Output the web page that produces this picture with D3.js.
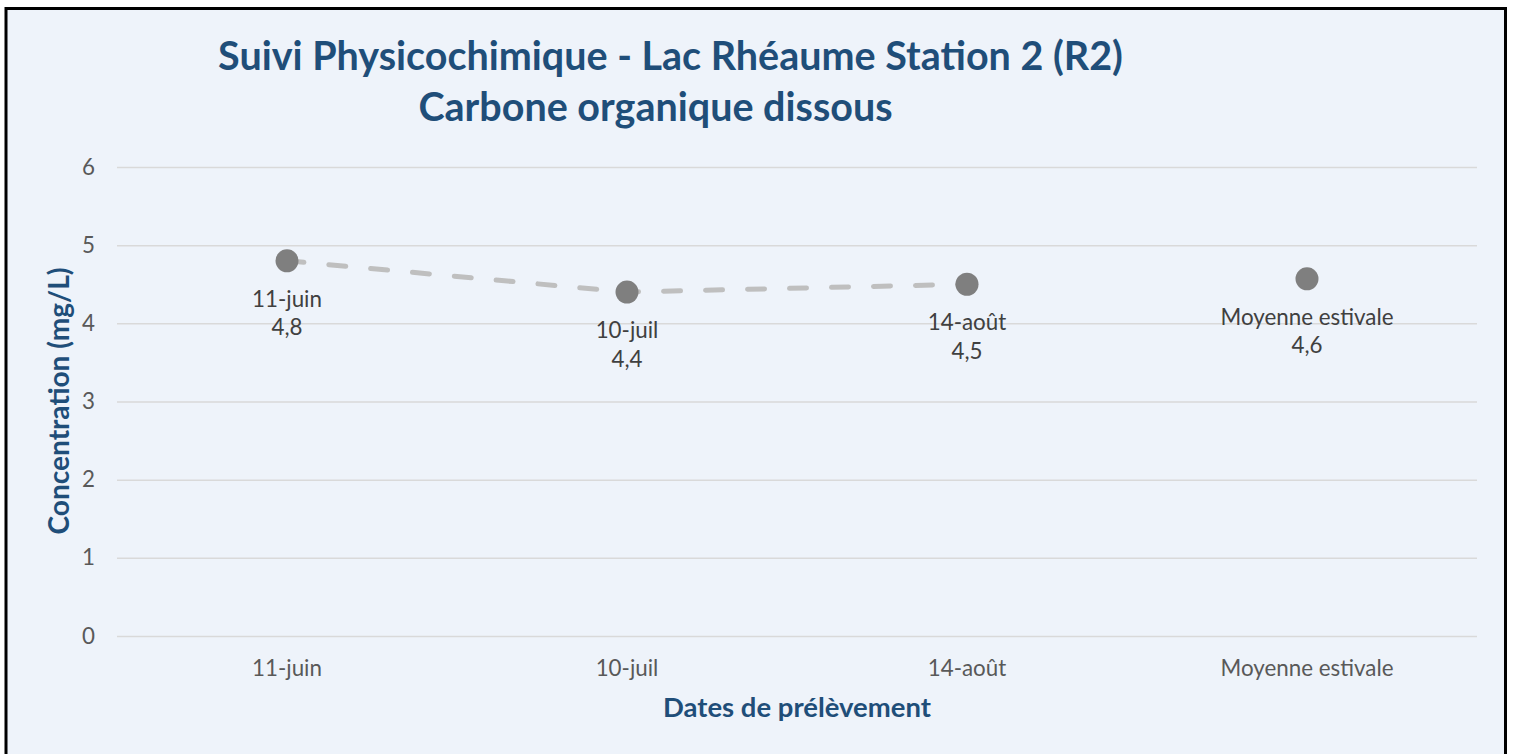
<!DOCTYPE html>
<html><head><meta charset="utf-8">
<script src="https://cdn.jsdelivr.net/npm/d3@7"></script>
<style>html,body{margin:0;padding:0;background:#fff;} svg{display:block;}</style>
</head><body>
<svg id="chart" width="1515" height="754"></svg>
<script>
const categories = ["11-juin", "10-juil", "14-août", "Moyenne estivale"];
const values = [4.8, 4.4, 4.5, 4.57];
const valueLabels = ["4,8", "4,4", "4,5", "4,6"];
const lineSeriesCount = 3; // the dashed line joins the sampling dates only
const yTicks = [0, 1, 2, 3, 4, 5, 6];
const titleLines = ["Suivi Physicochimique - Lac Rhéaume Station 2 (R2)", "Carbone organique dissous"];
const xTitle = "Dates de prélèvement";
const yTitle = "Concentration (mg/L)";

const FONT = "Lato, 'Open Sans', sans-serif";
const svg = d3.select("#chart");

svg.append("rect").attr("x", 6).attr("y", 8.5).attr("width", 1499.5).attr("height", 770)
  .attr("fill", "#EEF3FA").attr("stroke", "#000").attr("stroke-width", 3);

const x = d3.scaleBand().domain(categories).range([117, 1477]);
const y = d3.scaleLinear().domain([0, 6]).range([636, 167]);

function fit(sel, target) {
  const w = sel.node().getComputedTextLength();
  const fs = parseFloat(sel.attr("font-size"));
  sel.attr("font-size", (fs * target / w).toFixed(2));
}

// gridlines
svg.append("g").selectAll("line").data(yTicks).join("line")
  .attr("x1", 117).attr("x2", 1477)
  .attr("y1", d => y(d) + 0.5).attr("y2", d => y(d) + 0.5)
  .attr("stroke", "#D9D9D9").attr("stroke-width", 1.5);

// y axis via d3
const yAxis = svg.append("g").attr("transform", "translate(117,0)")
  .call(d3.axisLeft(y).tickValues(yTicks).tickSize(0).tickPadding(22).tickFormat(d3.format("d")));
yAxis.select(".domain").remove();
yAxis.selectAll("text").attr("font-family", FONT).attr("font-size", 19).attr("fill", "#595959");

// x axis via d3
const xAxis = svg.append("g").attr("transform", "translate(0,636)")
  .call(d3.axisBottom(x).tickSize(0).tickPadding(24));
xAxis.select(".domain").remove();
xAxis.selectAll("text").attr("font-family", FONT).attr("font-size", 20).attr("fill", "#595959");
const longest = xAxis.selectAll("text").filter(d => d === "Moyenne estivale");
fit(longest, 173);
const tickFs = longest.attr("font-size");
xAxis.selectAll("text").attr("font-size", tickFs).attr("dy", null).attr("y", 40);
yAxis.selectAll("text").attr("font-size", tickFs);

// dashed line
const pts = categories.map((c, i) => ({c, v: values[i], lab: valueLabels[i]}));
const line = d3.line().x(d => x(d.c) + x.bandwidth() / 2).y(d => y(d.v));
svg.append("path").datum(pts.slice(0, lineSeriesCount))
  .attr("d", line).attr("fill", "none").attr("stroke", "#BFBFBF")
  .attr("stroke-width", 5).attr("stroke-linecap", "round").attr("stroke-dasharray", "17 25");

// markers
svg.append("g").selectAll("circle").data(pts).join("circle")
  .attr("cx", d => x(d.c) + x.bandwidth() / 2).attr("cy", d => y(d.v))
  .attr("r", 11.5).attr("fill", "#7F7F7F");

// data labels
const lg = svg.append("g").attr("font-family", FONT).attr("font-size", tickFs)
  .attr("fill", "#404040").attr("text-anchor", "middle");
lg.selectAll("text.n").data(pts).join("text").attr("class", "n")
  .attr("x", d => x(d.c) + x.bandwidth() / 2).attr("y", d => y(d.v) + 46).text(d => d.c);
lg.selectAll("text.v").data(pts).join("text").attr("class", "v")
  .attr("x", d => x(d.c) + x.bandwidth() / 2).attr("y", d => y(d.v) + 74.5).text(d => d.lab);

// titles
const t1 = svg.append("text").attr("x", 670.5).attr("y", 70).attr("text-anchor", "middle")
  .attr("font-family", FONT).attr("font-weight", "bold").attr("font-size", 36).attr("fill", "#1F4E79")
  .text(titleLines[0]);
fit(t1, 905);
const t2 = svg.append("text").attr("x", 655.5).attr("y", 121).attr("text-anchor", "middle")
  .attr("font-family", FONT).attr("font-weight", "bold").attr("font-size", t1.attr("font-size")).attr("fill", "#1F4E79")
  .text(titleLines[1]);

const xt = svg.append("text").attr("x", 797).attr("y", 717).attr("text-anchor", "middle")
  .attr("font-family", FONT).attr("font-weight", "bold").attr("font-size", 22).attr("fill", "#1F4E79")
  .text(xTitle);
fit(xt, 268);

const yt = svg.append("text").attr("transform", "translate(69,401) rotate(-90)").attr("text-anchor", "middle")
  .attr("font-family", FONT).attr("font-weight", "bold").attr("font-size", 20).attr("fill", "#1F4E79")
  .text(yTitle);
fit(yt, 267);
</script>
</body></html>
